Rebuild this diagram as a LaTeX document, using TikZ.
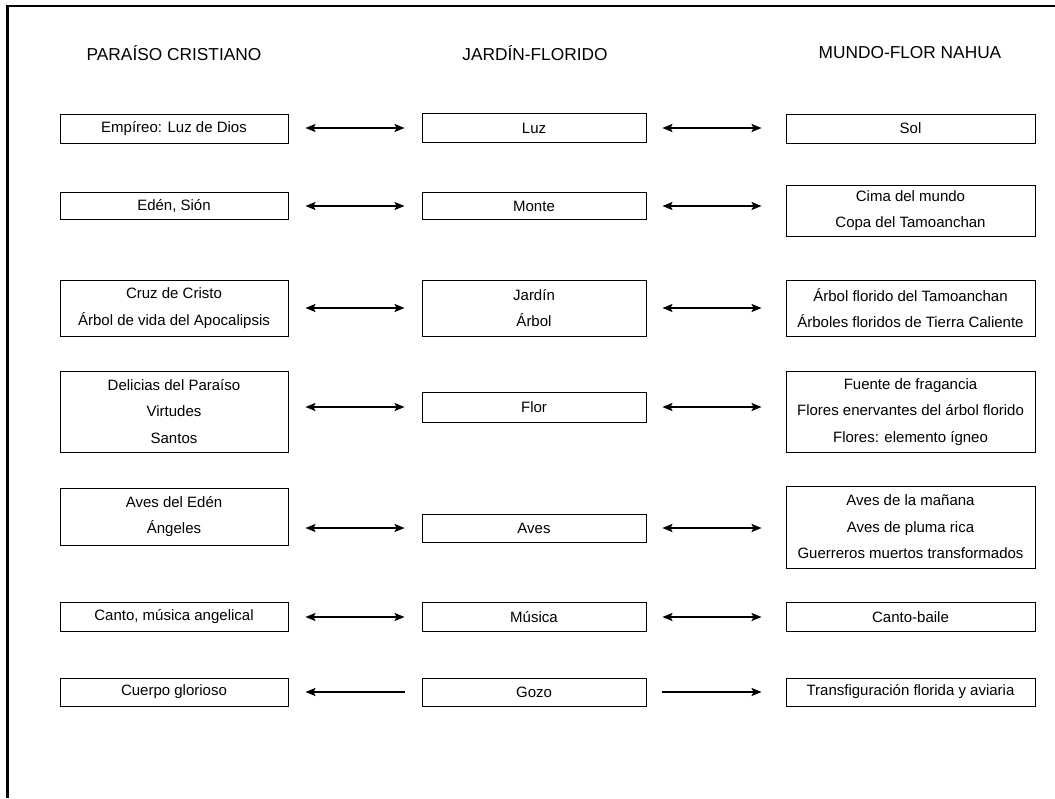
\documentclass[tikz,border=0pt]{standalone}
\usepackage{fontspec}
\setmainfont{Liberation Sans}
\usetikzlibrary{arrows.meta}
\newcommand{\boxfnt}{\fontsize{15}{26.5}\selectfont}
\newcommand{\headfnt}{\fontsize{17.3}{20}\selectfont}
\begin{document}
\begin{tikzpicture}[x=1pt,y=-1pt,
  cbox/.style={draw, line width=0.9pt, inner sep=0pt, align=center, font=\boxfnt},
  colL/.style={cbox, minimum width=228pt},
  colM/.style={cbox, minimum width=224pt},
  colR/.style={cbox, minimum width=249pt},
  head/.style={inner sep=0pt, font=\headfnt},
  link/.style={line width=1.7pt, {Stealth[length=10pt,width=8pt,inset=2pt]}-{Stealth[length=10pt,width=8pt,inset=2pt]}},
  onelink/.style={line width=1.7pt, -{Stealth[length=10pt,width=8pt,inset=2pt]}},
  frame/.style={line width=2.3pt}]
\useasboundingbox (0,0) rectangle (1055,798);
\coordinate (fa) at (1055,6);
\coordinate (fb) at (7.5,6);
\coordinate (fc) at (7.5,798);
\draw[frame] (fa) -- (fb) -- (fc);

\node[head] (hL) at (174,53) {PARAÍSO CRISTIANO};
\node[head] (hM) at (535,53) {JARDÍN-FLORIDO};
\node[head] (hR) at (910,53) {MUNDO-FLOR NAHUA};

% row 1
\node[colL, minimum height=29pt] (L1) at (174,128.5) {Empíreo: Luz de Dios};
\node[colM, minimum height=29pt] (M1) at (534,128) {Luz};
\node[colR, minimum height=29pt] (R1) at (910.5,128.5) {Sol};
% row 2
\node[colL, minimum height=27pt] (L2) at (174,206) {Edén, Sión};
\node[colM, minimum height=27pt] (M2) at (534,206) {Monte};
\node[colR, minimum height=51pt] (R2) at (910.5,210.5) {Cima del mundo\\Copa del Tamoanchan};
% row 3
\node[colL, minimum height=56pt] (L3) at (174,308) {Cruz de Cristo\\Árbol de vida del Apocalipsis};
\node[colM, minimum height=56pt] (M3) at (534,308) {Jardín\\Árbol};
\node[colR, minimum height=56pt] (R3) at (910.5,308) {Árbol florido del Tamoanchan\\Árboles floridos de Tierra Caliente};
% row 4
\node[colL, minimum height=81pt] (L4) at (174,411.5) {Delicias del Paraíso\\Virtudes\\Santos};
\node[colM, minimum height=30pt] (M4) at (534,407) {Flor};
\node[colR, minimum height=81pt] (R4) at (910.5,412) {Fuente de fragancia\\Flores enervantes del árbol florido\\Flores: elemento ígneo};
% row 5
\node[colL, minimum height=57pt] (L5) at (174,516.5) {Aves del Edén\\Ángeles};
\node[colM, minimum height=28pt] (M5) at (534,528) {Aves};
\node[colR, minimum height=82pt] (R5) at (910.5,527) {Aves de la mañana\\Aves de pluma rica\\Guerreros muertos transformados};
% row 6
\node[colL, minimum height=29pt] (L6) at (174,617) {Canto, música angelical};
\node[colM, minimum height=29pt] (M6) at (534,617) {Música};
\node[colR, minimum height=29pt] (R6) at (910.5,617) {Canto-baile};
% row 7
\node[colL, minimum height=28pt] (L7) at (174,692) {Cuerpo glorioso};
\node[colM, minimum height=28pt] (M7) at (534,692) {Gozo};
\node[colR, minimum height=28pt] (R7) at (910.5,692) {Transfiguración florida y aviaria};

\foreach \i in {1,...,6}{
  \draw[link, shorten <=17pt, shorten >=17pt] (L\i.east |- M\i.center) -- (M\i.west);
  \draw[link, shorten <=16pt, shorten >=24pt] (M\i.east) -- (R\i.west |- M\i.center);
}
\draw[onelink, shorten <=17pt, shorten >=17pt] (M7.west) -- (L7.east |- M7.center);
\draw[onelink, shorten <=16pt, shorten >=24pt] (M7.east) -- (R7.west |- M7.center);
\end{tikzpicture}
\end{document}
